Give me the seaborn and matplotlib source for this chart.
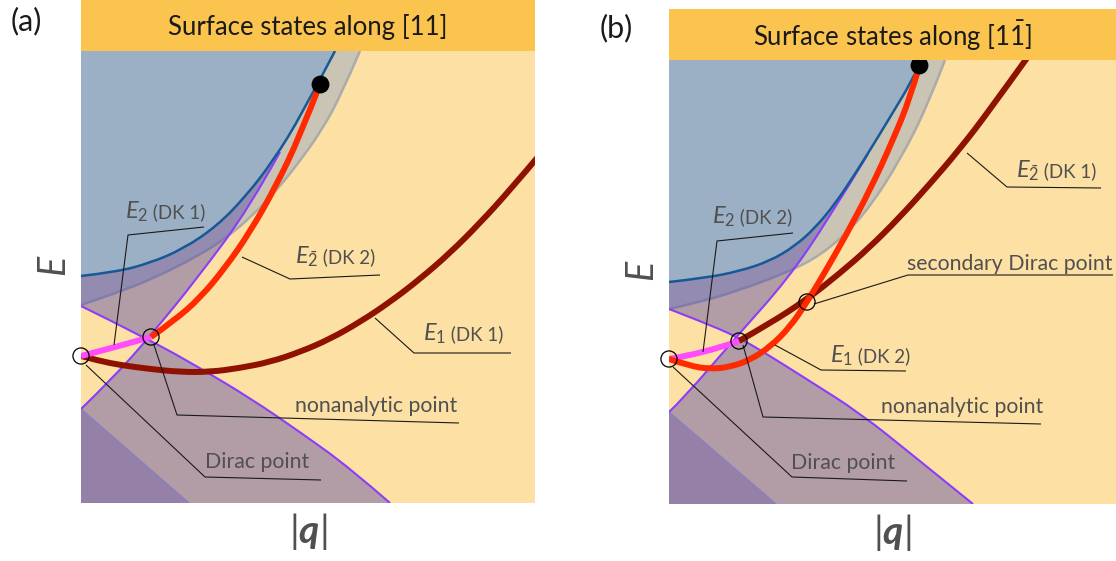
import numpy as np
import matplotlib
matplotlib.use("Agg")
import matplotlib.pyplot as plt
from matplotlib.path import Path
from matplotlib.patches import PathPatch, Polygon
import seaborn as sns

# ---------------- panel (a): surface states along [11] ----------------
# bulk band edges (q, E in arbitrary units)
a_blue_q = [0, 35, 69, 102, 136, 165, 192, 220, 254]
a_blue_E = [227, 231, 240, 254, 277, 307, 342, 387, 452]
a_gray_q = [0, 35, 69, 119, 146, 169, 196, 222, 242, 260, 279]
a_gray_E = [198, 210, 223, 248, 266, 285, 313, 346, 375, 408, 452]
a_rise_q = [0, 32, 70, 115, 169, 199]
a_rise_E = [94, 125, 168, 223, 296, 351]
a_fall_q = [0, 69, 119, 169, 219, 269, 309]
a_fall_E = [197, 163, 135, 105, 71, 35, 0]
a_tri_q = [0, 108]
a_tri_E = [94, 0]
# surface-state branches
a_pink_q = [0, 35, 70]
a_pink_E = [147, 156, 166]
a_red_q = [70, 94, 119, 144, 169, 194, 219, 239]
a_red_E = [166, 183, 205, 235, 271, 315, 367, 419]
a_dred_q = [0, 19, 39, 69, 99, 129, 159, 189, 219, 249, 279, 309, 339, 369, 399, 429, 456]
a_dred_E = [147, 142, 138, 134, 131, 131, 135, 141, 151, 164, 181, 201, 224, 250, 280, 313, 345]
a_circ_q = [0, 70]
a_circ_E = [147, 166]
a_dot_q = [239]
a_dot_E = [419]

# ---------------- panel (b): surface states along [1-1] ----------------
b_blue_q = [0, 36, 71, 101, 126, 146, 166, 186, 206, 226, 241, 253]
b_blue_E = [222, 226, 233, 243, 258, 276, 300, 330, 362, 395, 420, 444]
b_gray_q = [0, 31, 71, 111, 144, 174, 201, 231, 258, 276]
b_gray_E = [195, 202, 214, 229, 244, 267, 297, 344, 397, 444]
b_rise_q = [0, 13, 69, 118, 159, 199]
b_rise_E = [92, 104, 169, 224, 284, 350]
b_fall_q = [0, 31, 69, 101, 139, 191, 246, 304]
b_fall_E = [195, 183, 167, 148, 124, 91, 47, 0]
b_tri_q = [0, 107]
b_tri_E = [92, 0]
b_pink_q = [0, 36, 70]
b_pink_E = [145, 151, 163]
b_red_q = [0, 21, 41, 61, 81, 101, 121, 138, 156, 176, 201, 224, 241, 250]
b_red_E = [145, 138, 135, 137, 144, 157, 177, 202, 232, 267, 314, 364, 406, 437]
b_dred_q = [70, 100, 137, 170, 200, 230, 260, 290, 320, 358]
b_dred_E = [163, 180, 204, 230, 256, 286, 319, 354, 393, 446]
b_circ_q = [0, 70, 138]
b_circ_E = [145, 163, 202]
b_dot_q = [250]
b_dot_E = [439]

# labels: (symbol, suffix, anchor) and plain notes (text, anchor)
a_labels = [(r"$E_2$", " (DK 1)", (44, 285)),
            (r"$E_{\bar{2}}$", " (DK 2)", (214, 240)),
            (r"$E_1$", " (DK 1)", (342, 163))]
a_notes = [("nonanalytic point", (214, 91)), ("Dirac point", (124, 35))]
a_leaders = [[(123, 276), (47, 268), (33, 158)],
             [(161, 246), (209, 224), (299, 228)],
             [(294, 185), (333, 150), (430, 150)],
             [(73, 158), (96, 88), (378, 80)],
             [(5, 138), (124, 26), (240, 23)]]

b_labels = [(r"$E_2$", " (DK 2)", (43, 281)),
            (r"$E_{\bar{2}}$", " (DK 1)", (347, 327)),
            (r"$E_1$", " (DK 2)", (161, 142))]
b_notes = [("secondary Dirac point", (238, 234)),
           ("nonanalytic point", (212, 91)),
           ("Dirac point", (122, 35))]
b_leaders = [[(124, 271), (48, 263), (34, 152)],
             [(298, 351), (338, 317), (432, 316)],
             [(444, 229), (239, 229), (145, 200)],
             [(106, 159), (152, 134), (237, 133)],
             [(74, 159), (94, 87), (372, 80)],
             [(4, 137), (123, 27), (238, 23)]]

titles = ["Surface states along [11]", r"Surface states along [1$\bar{1}$]"]
tags = ["(a)", "(b)"]

# ---------------- style ----------------
sns.set_theme(style="white")
plt.rcParams["font.family"] = ["Lato", "DejaVu Sans"]
plt.rcParams["mathtext.fontset"] = "custom"
plt.rcParams["mathtext.rm"] = "Lato"
plt.rcParams["mathtext.it"] = "Lato:italic"
plt.rcParams["mathtext.bf"] = "Lato:bold"
plt.rcParams["mathtext.bfit"] = "Lato:bold:italic"
plt.rcParams["lines.solid_capstyle"] = "butt"

C = dict(bg="#fde0a3", bar="#fbc44e", blue="#9bb0c4", blue_line="#155a96",
         gray="#cac4b4", gray_line="#ababab", violet="#4237ab",
         purple="#8b3dfa", red="#ff2a00", dred="#8f1200", pink="#ff4cff",
         text="#505050", lead="#1a1a1a")

W, H = 1116, 561
fig = plt.figure(figsize=(W / 100, H / 100), dpi=100)


def add_px_axes(left, top, right, bottom):
    return fig.add_axes([left / W, (H - bottom) / H, (right - left) / W, (bottom - top) / H])


def clean(ax):
    ax.set_xticks([])
    ax.set_yticks([])
    for s in ax.spines.values():
        s.set_visible(False)


def smooth(q, E):
    """Quadratic B-spline path through the sampled points (smooth rendering)."""
    P = np.column_stack([q, E]).astype(float)
    n = len(P)
    verts, codes = [P[0]], [Path.MOVETO]
    if n == 2:
        return verts + [P[1]], codes + [Path.LINETO]
    for i in range(1, n - 1):
        end = (P[i] + P[i + 1]) / 2 if i < n - 2 else P[n - 1]
        verts += [P[i], end]
        codes += [Path.CURVE3, Path.CURVE3]
    return verts, codes


def region(q, E, extra):
    verts, codes = smooth(q, E)
    verts = list(verts) + [np.asarray(p, float) for p in extra] + [verts[0]]
    codes = list(codes) + [Path.LINETO] * len(extra) + [Path.CLOSEPOLY]
    return Path(verts, codes)


def stroke(ax, q, E, color, lw, z):
    v, c = smooth(q, E)
    ax.add_patch(PathPatch(Path(v, c), fill=False, edgecolor=color, lw=lw,
                           capstyle="butt", joinstyle="round", zorder=z))


def fill(ax, path, color, z, alpha=1.0, clip=None):
    p = PathPatch(path, facecolor=color, edgecolor="none", alpha=alpha, zorder=z)
    ax.add_patch(p)
    if clip is not None:
        cp = PathPatch(clip, transform=ax.transData)
        p.set_clip_path(cp)
    return p


def draw_panel(ax, d, top, width):
    ax.set_facecolor(C["bg"])
    ax.set_xlim(0, width)
    ax.set_ylim(0, top)
    clean(ax)

    # side band (gray) left of the gray edge
    fill(ax, region(d["gray_q"], d["gray_E"], [(0, top)]), C["gray"], 1)
    stroke(ax, d["gray_q"], d["gray_E"], C["gray_line"], 1.8, 2)

    # upper and lower bulk continua (translucent violet)
    above_rise = region(d["rise_q"], d["rise_E"], [(d["rise_q"][-1], top), (0, top)])
    above_fall = region(d["fall_q"], d["fall_E"], [(d["fall_q"][-1], top), (0, top)])
    below_fall = region(d["fall_q"], d["fall_E"], [(0, 0)])
    below_rise = region(d["rise_q"], d["rise_E"],
                        [(width + 50, d["rise_E"][-1]), (width + 50, 0), (0, 0)])
    fill(ax, above_rise, C["violet"], 3, alpha=0.40, clip=above_fall)
    fill(ax, below_fall, C["violet"], 3, alpha=0.40, clip=below_rise)
    tri = list(zip(d["tri_q"], d["tri_E"])) + [(0, 0)]
    ax.add_patch(Polygon(tri, closed=True, facecolor=C["violet"], alpha=0.26,
                         edgecolor="none", zorder=3))
    stroke(ax, d["tri_q"], d["tri_E"], "#8c80bd", 1.0, 3)

    stroke(ax, d["rise_q"], d["rise_E"], C["purple"], 1.5, 4)
    stroke(ax, d["fall_q"], d["fall_E"], C["purple"], 1.5, 4)

    # bulk band (blue)
    fill(ax, region(d["blue_q"], d["blue_E"], [(0, top)]), C["blue"], 5)
    stroke(ax, d["blue_q"], d["blue_E"], C["blue_line"], 1.8, 6)

    # surface-state branches
    for key in ("dred", "pink", "red"):
        stroke(ax, d[key + "_q"], d[key + "_E"], C[key], 4.3, 7)

    ax.scatter(d["circ_q"], d["circ_E"], s=135, facecolors="none",
               edgecolors="black", linewidths=0.9, zorder=9, clip_on=False)
    sns.scatterplot(x=d["dot_q"], y=d["dot_E"], ax=ax, s=165, color="black",
                    edgecolor="black", linewidth=0, zorder=9, clip_on=False,
                    legend=False)

    for pts in d["leaders"]:
        xs, ys = zip(*pts)
        sns.lineplot(x=list(xs), y=list(ys), ax=ax, color=C["lead"], lw=0.8,
                     sort=False, estimator=None, zorder=8, clip_on=False,
                     legend=False)
    for sym, suffix, (x, y) in d["labels"]:
        t = ax.text(x, y, sym, fontsize=17, color=C["text"], ha="left",
                    va="baseline", zorder=10)
        ax.annotate(suffix, xy=(1, 0), xycoords=t, xytext=(0, 1.5),
                    textcoords="offset points", fontsize=13.5, color=C["text"],
                    ha="left", va="bottom", zorder=10)
    for txt, (x, y) in d["notes"]:
        ax.text(x, y, txt, fontsize=15.3, color=C["text"], ha="left",
                va="baseline", zorder=10)

    ax.set_ylabel("E", fontsize=27, fontstyle="italic", color=C["text"],
                  visible=True)
    ax.set_xlabel(r"$|\mathbfit{q}|$", fontsize=28, color=C["text"],
                  visible=True)


panels = [
    dict(box=(81, 51, 535, 503), bar=(81, 0, 535, 51),
         blue_q=a_blue_q, blue_E=a_blue_E, gray_q=a_gray_q, gray_E=a_gray_E,
         rise_q=a_rise_q, rise_E=a_rise_E, fall_q=a_fall_q, fall_E=a_fall_E,
         tri_q=a_tri_q, tri_E=a_tri_E, pink_q=a_pink_q, pink_E=a_pink_E,
         red_q=a_red_q, red_E=a_red_E, dred_q=a_dred_q, dred_E=a_dred_E,
         circ_q=a_circ_q, circ_E=a_circ_E, dot_q=a_dot_q, dot_E=a_dot_E,
         labels=a_labels, notes=a_notes, leaders=a_leaders, tag_xy=(26, 21)),
    dict(box=(669, 60, 1116, 504), bar=(669, 9, 1116, 60),
         blue_q=b_blue_q, blue_E=b_blue_E, gray_q=b_gray_q, gray_E=b_gray_E,
         rise_q=b_rise_q, rise_E=b_rise_E, fall_q=b_fall_q, fall_E=b_fall_E,
         tri_q=b_tri_q, tri_E=b_tri_E, pink_q=b_pink_q, pink_E=b_pink_E,
         red_q=b_red_q, red_E=b_red_E, dred_q=b_dred_q, dred_E=b_dred_E,
         circ_q=b_circ_q, circ_E=b_circ_E, dot_q=b_dot_q, dot_E=b_dot_E,
         labels=b_labels, notes=b_notes, leaders=b_leaders, tag_xy=(616, 28)),
]

for d, title, tag in zip(panels, titles, tags):
    l, t, r, b = d["box"]
    ax = add_px_axes(l, t, r, b)
    draw_panel(ax, d, b - t, r - l)
    # E label to the left of the panel, |q| centred below it
    ax.yaxis.set_label_coords(-0.022, 0.527)
    ax.xaxis.set_label_coords(0.5, -0.018)

    bl, bt, br, bb = d["bar"]
    bax = add_px_axes(bl, bt, br, bb)
    bax.set_facecolor(C["bar"])
    clean(bax)
    bax.text(0.5, 0.47, title, transform=bax.transAxes, ha="center",
             va="center", fontsize=18.5, color="#1a1a1a")

    fig.text(d["tag_xy"][0] / W, 1 - d["tag_xy"][1] / H, tag, ha="center",
             va="center", fontsize=22, color="#1a1a1a")

fig.savefig("out.png", dpi=100, facecolor="white")
